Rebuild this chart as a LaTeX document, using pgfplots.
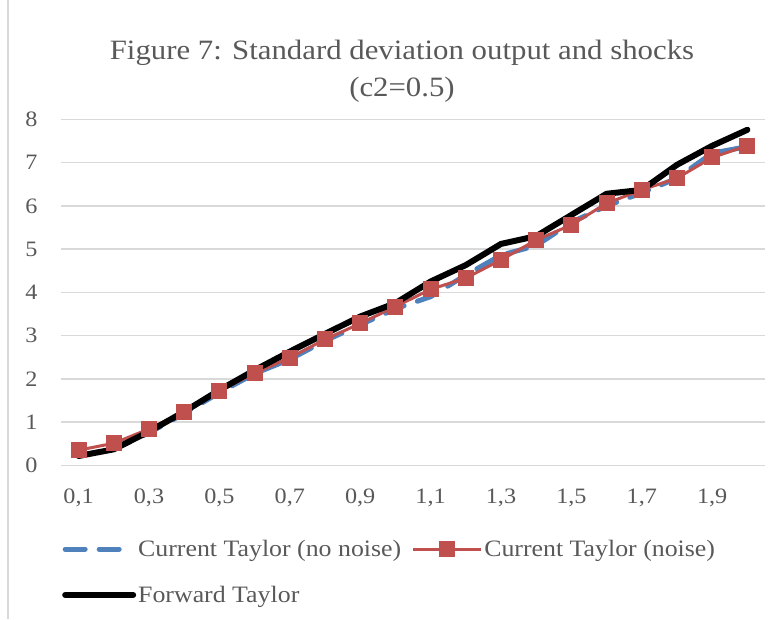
\documentclass[border=0pt]{standalone}
\usepackage{pgfplots}
\pgfplotsset{compat=1.18}
\usepackage{fontspec}
\setmainfont[FakeStretch=1.1]{Liberation Serif}
\definecolor{txt}{HTML}{595959}
\definecolor{gridc}{HTML}{D9D9D9}
\definecolor{cblue}{HTML}{4F81BD}
\definecolor{cred}{HTML}{C0504D}
\begin{document}
\begin{tikzpicture}[x=1pt,y=1pt]
\path[use as bounding box] (0,0) rectangle (781,619);
\draw[gridc, line width=1.5pt] (8,0) -- (8,619);
\node[align=center, text=txt, font=\fontsize{28}{37}\selectfont] at (402,547.5) {Figure 7: Standard deviation output and shocks\\(c2=0.5)};
\begin{axis}[
  at={(61pt,153.7pt)}, anchor=south west,
  scale only axis, width=704pt, height=345.9pt,
  xmin=0.05, xmax=2.05, ymin=0, ymax=8,
  axis line style={draw=none},
  major tick length=0pt,
  ymajorgrids, grid style={gridc, line width=1.6pt},
  ytick={0,1,...,8},
  xtick={0.1,0.3,0.5,0.7,0.9,1.1,1.3,1.5,1.7,1.9},
  xticklabels={{0,1},{0,3},{0,5},{0,7},{0,9},{1,1},{1,3},{1,5},{1,7},{1,9}},
  /pgf/number format/assume math mode=true,
  ticklabel style={text=txt, font=\fontsize{22}{24}\selectfont},
  yticklabel style={xshift=-20pt},
  xticklabel style={yshift=-20pt},
  legend columns=2,
  legend style={draw=none, fill=none, inner sep=0pt, at={(0.0014,-0.21)}, anchor=north west,
    font=\fontsize{23.5}{26}\selectfont, text=txt, row sep=24pt,
    /tikz/every even column/.append style={column sep=8pt}},
  legend cell align=left,
  legend image code/.code={\draw[mark repeat=2,mark phase=2,#1] plot coordinates {(0pt,0pt) (34pt,0pt) (68pt,0pt)};},
]
\addplot[cblue, line width=5pt, dash pattern=on 20pt off 14pt, line cap=round] coordinates {
(0.1,0.22)(0.2,0.38)(0.3,0.75)(0.4,1.20)(0.5,1.68)(0.6,2.12)(0.7,2.45)(0.8,2.88)(0.9,3.25)(1.0,3.62)
(1.1,3.90)(1.2,4.40)(1.3,4.86)(1.4,5.08)(1.5,5.62)(1.6,6.00)(1.7,6.30)(1.8,6.64)(1.9,7.22)(2.0,7.37)};
\addlegendentry{Current Taylor (no noise)}
\addplot[cred, line width=3pt, mark=square*, mark size=6.5pt, mark options={solid}] coordinates {
(0.1,0.35)(0.2,0.51)(0.3,0.84)(0.4,1.24)(0.5,1.72)(0.6,2.13)(0.7,2.49)(0.8,2.91)(0.9,3.28)(1.0,3.67)
(1.1,4.07)(1.2,4.33)(1.3,4.75)(1.4,5.21)(1.5,5.56)(1.6,6.06)(1.7,6.37)(1.8,6.64)(1.9,7.12)(2.0,7.39)};
\addlegendentry{Current Taylor (noise)}
\addplot[black, line width=6pt, line join=round, line cap=round] coordinates {
(0.1,0.215)(0.2,0.37)(0.3,0.78)(0.4,1.24)(0.5,1.74)(0.6,2.20)(0.7,2.63)(0.8,3.04)(0.9,3.44)(1.0,3.75)
(1.1,4.25)(1.2,4.63)(1.3,5.12)(1.4,5.30)(1.5,5.79)(1.6,6.28)(1.7,6.37)(1.8,6.95)(1.9,7.39)(2.0,7.76)};
\addlegendentry{Forward Taylor}
\end{axis}
\end{tikzpicture}
\end{document}
